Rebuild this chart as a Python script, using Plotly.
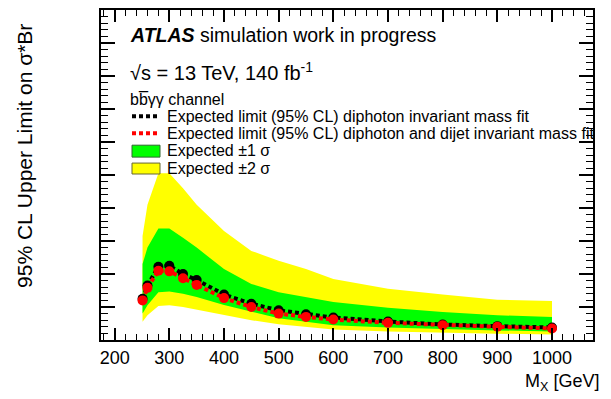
import plotly.graph_objects as go

# mass points [GeV]
mass = [251, 260, 280, 300, 325, 350, 400, 450, 500, 550, 600, 700, 800, 900, 1000]

# expected limits (arbitrary units, y tick labels not shown in the original)
exp_gg = [1.25, 1.65, 2.22, 2.25, 2.00, 1.82, 1.38, 1.10, 0.90, 0.78, 0.68, 0.56, 0.47, 0.42, 0.38]
exp_ggjj = [1.20, 1.58, 2.10, 2.08, 1.87, 1.67, 1.27, 1.00, 0.80, 0.70, 0.62, 0.52, 0.45, 0.40, 0.35]

# +-1 sigma and +-2 sigma bands
sig1_lo = [0.80, 1.05, 1.45, 1.47, 1.40, 1.30, 1.06, 0.85, 0.66, 0.55, 0.45, 0.38, 0.33, 0.29, 0.26]
sig1_hi = [2.30, 2.80, 3.38, 3.38, 3.10, 2.80, 2.15, 1.70, 1.45, 1.30, 1.15, 0.98, 0.85, 0.75, 0.70]
sig2_lo = [0.55, 0.75, 1.03, 1.05, 1.00, 0.92, 0.77, 0.60, 0.48, 0.40, 0.32, 0.26, 0.22, 0.19, 0.17]
sig2_hi = [3.15, 4.10, 5.05, 5.05, 4.60, 4.10, 3.30, 2.70, 2.40, 2.15, 1.85, 1.55, 1.38, 1.22, 1.18]

FONT = "Liberation Sans, Arial, Helvetica, sans-serif"

fig = go.Figure()

# yellow band
fig.add_trace(go.Scatter(x=mass, y=sig2_lo, mode="lines", line=dict(width=0), showlegend=False))
fig.add_trace(go.Scatter(x=mass, y=sig2_hi, mode="lines", line=dict(width=0),
                         fill="tonexty", fillcolor="#ffff00", showlegend=False))
# green band
fig.add_trace(go.Scatter(x=mass, y=sig1_lo, mode="lines", line=dict(width=0), showlegend=False))
fig.add_trace(go.Scatter(x=mass, y=sig1_hi, mode="lines", line=dict(width=0),
                         fill="tonexty", fillcolor="#00ff00", showlegend=False))

# expected limits
fig.add_trace(go.Scatter(x=mass, y=exp_gg, mode="lines+markers",
                         line=dict(color="black", width=4, dash="4px,3px"),
                         marker=dict(color="black", size=10), showlegend=False))
fig.add_trace(go.Scatter(x=mass, y=exp_ggjj, mode="lines+markers",
                         line=dict(color="#ff0000", width=4, dash="4px,3px"),
                         marker=dict(color="#ff0000", size=10), showlegend=False))

# page body has an 8px margin, so the figure is drawn 8px right/down
OFF = 8
# plot frame in screen pixels
L = 101
T = 8
B = 340
R = 593
W = R - L
H = B - T
def px(x):
    return (x - L) / W
def py(y):
    return (B - y) / H

ann = []
ann.append(dict(x=px(128), y=py(33), text="<b><i>ATLAS</i></b> simulation work in progress",
                font=dict(size=19.5)))
ann.append(dict(x=px(128), y=py(70), text="√s = 13 TeV, 140 fb<sup>-1</sup>", font=dict(size=20)))
ann.append(dict(x=px(128), y=py(98), text="bb̅γγ channel", font=dict(size=16)))
ann.append(dict(x=px(165), y=py(115), text="Expected limit (95% CL) diphoton invariant mass fit",
                font=dict(size=16)))
ann.append(dict(x=px(165), y=py(132), text="Expected limit (95% CL) diphoton and dijet invariant mass fit",
                font=dict(size=16)))
ann.append(dict(x=px(165), y=py(149), text="Expected ±1 σ", font=dict(size=16)))
ann.append(dict(x=px(165), y=py(167), text="Expected ±2 σ", font=dict(size=16)))
for a in ann:
    a.update(xref="paper", yref="paper", xanchor="left", yanchor="middle", showarrow=False)

# axis titles
ann.append(dict(x=px(601), y=py(383), xref="paper", yref="paper", xanchor="right", yanchor="middle",
                text="M<sub>X</sub> [GeV]", font=dict(size=18), showarrow=False))
ann.append(dict(x=px(25), y=py(20), xref="paper", yref="paper", xanchor="center", yanchor="top",
                text="95% CL Upper Limit on σ*Br", textangle=-90, font=dict(size=21), showarrow=False))

shapes = [
    dict(type="line", x0=px(132), x1=px(160), y0=py(115), y1=py(115),
         line=dict(color="black", width=4, dash="4px,3px")),
    dict(type="line", x0=px(132), x1=px(160), y0=py(132), y1=py(132),
         line=dict(color="#ff0000", width=4, dash="4px,3px")),
    dict(type="rect", x0=px(132), x1=px(160), y0=py(156), y1=py(144),
         fillcolor="#00ff00", line=dict(color="#336633", width=1)),
    dict(type="rect", x0=px(132), x1=px(160), y0=py(173), y1=py(162),
         fillcolor="#ffff00", line=dict(color="#666633", width=1)),
]
for s in shapes:
    s.update(xref="paper", yref="paper")

fig_w = 611 - OFF
fig_h = 399 - OFF
fig.update_layout(
    width=fig_w, height=fig_h,
    margin=dict(l=L - OFF, r=fig_w - (R - OFF), t=T - OFF, b=fig_h - (B - OFF), pad=0),
    plot_bgcolor="white", paper_bgcolor="white",
    font=dict(family=FONT, color="black"),
    annotations=ann, shapes=shapes,
    showlegend=False,
)
fig.update_xaxes(range=[175, 1075], showline=True, linecolor="black", linewidth=2, mirror="ticks",
                 ticks="inside", ticklen=12, tickwidth=1.5, tickcolor="black",
                 tick0=200, dtick=100, showgrid=False, zeroline=False,
                 tickfont=dict(size=18),
                 minor=dict(ticks="inside", ticklen=6, dtick=20, tickcolor="black", tickwidth=1.2))
fig.update_yaxes(range=[0, 10], showline=True, linecolor="black", linewidth=2, mirror="ticks",
                 ticks="inside", ticklen=14, tickwidth=1.5, tickcolor="black",
                 dtick=1, showgrid=False, zeroline=False, showticklabels=False,
                 minor=dict(ticks="inside", ticklen=7, dtick=0.2, tickcolor="black", tickwidth=1.2))

fig.write_html("out.html")
